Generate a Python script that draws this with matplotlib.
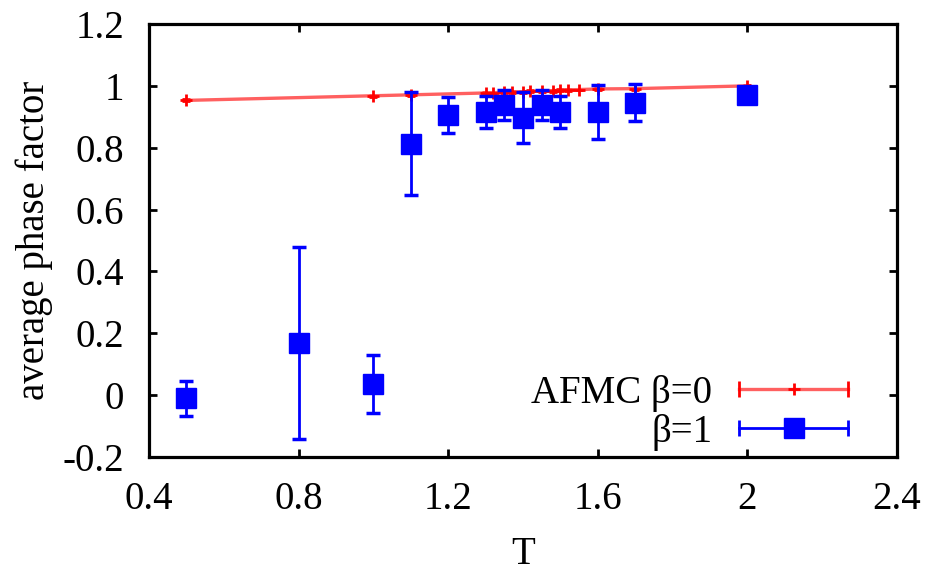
import matplotlib
matplotlib.use("Agg")
import matplotlib.pyplot as plt
from matplotlib.lines import Line2D
from matplotlib.legend_handler import HandlerBase
from matplotlib.ticker import FuncFormatter, MultipleLocator

# AFMC beta=0 (red, connected by a line)
t_afmc = [0.5, 1.0, 1.1, 1.3, 1.32, 1.35, 1.37, 1.4, 1.42, 1.45, 1.48, 1.5, 1.52, 1.55, 1.6, 1.7, 2.0]
phase_afmc = [0.953, 0.968, 0.971, 0.977, 0.978, 0.979, 0.980, 0.981, 0.982, 0.983, 0.984,
              0.986, 0.987, 0.988, 0.990, 0.991, 1.000]
err_afmc = [0.003] * len(t_afmc)

# beta=1 (blue squares, error bars only)
t_b1 = [0.5, 0.8, 1.0, 1.1, 1.2, 1.3, 1.35, 1.4, 1.45, 1.5, 1.6, 1.7, 2.0]
phase_b1 = [-0.01, 0.168, 0.035, 0.813, 0.906, 0.916, 0.939, 0.897, 0.938, 0.916, 0.916, 0.945, 0.971]
err_b1 = [0.057, 0.31, 0.094, 0.166, 0.057, 0.052, 0.049, 0.082, 0.048, 0.052, 0.087, 0.06, 0.01]

RED = "#ff0000"
PINK = "#ff6060"
BLUE = "#0000ff"

plt.rcParams["font.family"] = ["Liberation Serif", "DejaVu Serif"]
plt.rcParams["axes.unicode_minus"] = False
plt.rcParams["font.size"] = 28


class HBarHandler(HandlerBase):
    # gnuplot-style key sample: horizontal bar with end caps and the point in the middle
    def __init__(self, line_color, cap_color, marker, ms, mew, lw):
        super().__init__()
        self.line_color = line_color
        self.cap_color = cap_color
        self.marker = marker
        self.ms = ms
        self.mew = mew
        self.lw = lw

    def create_artists(self, legend, orig_handle, xdescent, ydescent, width, height, fontsize, trans):
        y = height / 2 - ydescent
        x0, x1 = -xdescent, width - xdescent
        bar = Line2D([x0, x1], [y, y], color=self.line_color, lw=self.lw)
        caps = Line2D([x0, x1], [y, y], linestyle="none", marker="|", ms=11,
                      mew=2, color=self.cap_color)
        pt = Line2D([(x0 + x1) / 2], [y], linestyle="none", marker=self.marker,
                    ms=self.ms, mew=self.mew, color=self.cap_color)
        arts = [bar, caps, pt]
        for a in arts:
            a.set_transform(trans)
        return arts


fig = plt.figure(figsize=(9.34, 5.73), dpi=100)
ax = fig.add_axes([149 / 934, 1 - 457 / 573, 748 / 934, 433 / 573])

ax.errorbar(t_afmc, phase_afmc, yerr=err_afmc, color=PINK, lw=2.4, marker="+", ms=9,
            mew=2, mec=RED, ecolor=RED, elinewidth=1.5, capsize=3, zorder=2)
ax.errorbar(t_b1, phase_b1, yerr=err_b1, color=BLUE, linestyle="none", marker="s", ms=14.5,
            elinewidth=2, capsize=5, capthick=2.5, zorder=3)

ax.set_xlim(0.4, 2.4)
ax.set_ylim(-0.2, 1.2)
ax.xaxis.set_major_locator(MultipleLocator(0.4))
ax.yaxis.set_major_locator(MultipleLocator(0.2))
fmt = FuncFormatter(lambda v, p: "%g" % round(v, 6))
ax.xaxis.set_major_formatter(fmt)
ax.yaxis.set_major_formatter(fmt)

for s in ax.spines.values():
    s.set_linewidth(2.3)
ax.tick_params(direction="in", length=6, width=2, top=True, right=True)
ax.tick_params(axis="x", pad=17)
ax.tick_params(axis="y", pad=18)

ax.set_xlabel("T", labelpad=13)
ax.set_ylabel("average phase factor", labelpad=7)

h1 = Line2D([], [], color=PINK)
h2 = Line2D([], [], color=BLUE)
ax.legend([h1, h2], ["AFMC β=0", "β=1"],
          handler_map={h1: HBarHandler(PINK, RED, "+", 9, 2, 2.4),
                       h2: HBarHandler(BLUE, BLUE, "s", 14.5, 1, 2)},
          loc="lower right", bbox_to_anchor=(0.935, 0.015), frameon=False,
          markerfirst=False, handlelength=2.8, handletextpad=0.7,
          labelspacing=0.05, borderpad=0, borderaxespad=0)

fig.savefig("out.png", dpi=100)
